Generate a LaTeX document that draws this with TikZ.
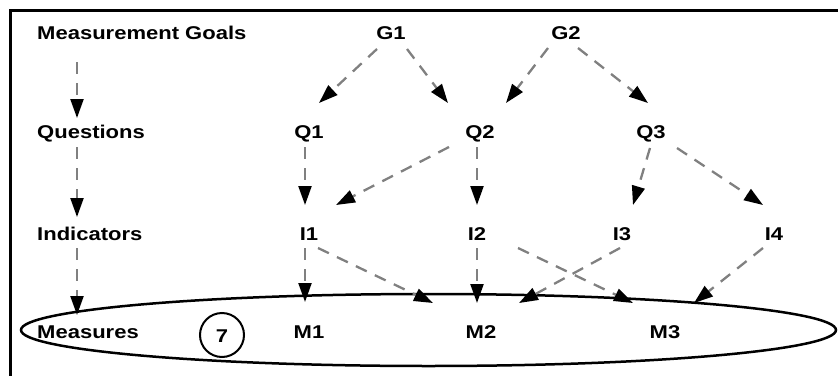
\documentclass[tikz,border=0pt]{standalone}
\usepackage{fontspec}
\setmainfont{Liberation Sans}[FakeStretch=1.19]
\usetikzlibrary{arrows.meta,calc,shapes.geometric}
\definecolor{dashgray}{HTML}{808080}
\begin{document}
\begin{tikzpicture}[x=1pt,y=-1pt,
  lbl/.style={font=\fontsize{18.5}{20}\selectfont\bfseries, inner sep=0pt, anchor=base},
  side/.style={lbl, anchor=base west},
  link/.style={draw=dashgray, line width=2.3pt, dash pattern=on 12pt off 9pt,
    -{Triangle[length=19pt,width=13pt,color=black]}}]
\useasboundingbox (0,0) rectangle (838,375);
% frame
\draw[line width=3pt] (10.5,10) rectangle (860,400);
% ellipse of measures
\node[draw, line width=2.5pt, ellipse, minimum width=815pt, minimum height=72pt, inner sep=0pt] (ell) at (428.5,330) {};
% side labels
\node[side] (MG) at (37,39) {Measurement Goals};
\node[side] (QS) at (37,138) {Questions};
\node[side] (IS) at (37,240) {Indicators};
\node[side] (MS) at (37,338) {Measures};
% nodes
\node[lbl] (G1) at (391,39) {G1};
\node[lbl] (G2) at (566,39) {G2};
\node[lbl] (Q1) at (309,138) {Q1};
\node[lbl] (Q2) at (480,138) {Q2};
\node[lbl] (Q3) at (651,138) {Q3};
\node[lbl] (I1) at (309,240) {I1};
\node[lbl] (I2) at (477,240) {I2};
\node[lbl] (I3) at (622,240) {I3};
\node[lbl] (I4) at (774,240) {I4};
\node[lbl] (M1) at (309,338) {M1};
\node[lbl] (M2) at (481,338) {M2};
\node[lbl] (M3) at (665,338) {M3};
\node[draw, circle, line width=2pt, minimum size=44pt, inner sep=0pt] (C7) at (222,335) {};
\node[lbl] (seven) at (222,342) {7};
% side arrows
\draw[link] ($(MG.base west)+(40,23)$) -- ($(QS.base west)+(40,-20)$);
\draw[link] ($(QS.base west)+(40,9)$) -- ($(IS.base west)+(40,-23)$);
\draw[link] ($(IS.base west)+(40,8)$) -- ($(MS.base west)+(40,-23)$);
% goals to questions
\draw[link] ($(G1.base)+(-14,10)$) -- ($(Q1.base)+(10,-35)$);
\draw[link] ($(G1.base)+(16,10)$) -- ($(Q2.base)+(-32,-35)$);
\draw[link] ($(G2.base)+(-18,9)$) -- ($(Q2.base)+(26,-35)$);
\draw[link] ($(G2.base)+(12,9)$) -- ($(Q3.base)+(-3,-35)$);
% questions to indicators
\draw[link] ($(Q1.base)+(-4,9)$) -- ($(I1.base)+(-4,-35)$);
\draw[link] ($(Q2.base)+(-31,9)$) -- ($(I1.base)+(27,-35)$);
\draw[link] ($(Q2.base)+(-3,9)$) -- ($(I2.base)+(0,-35)$);
\draw[link] ($(Q3.base)+(-1,10)$) -- ($(I3.base)+(11,-35)$);
\draw[link] ($(Q3.base)+(26,10)$) -- ($(I4.base)+(-11,-35)$);
% indicators to measures
\draw[link] ($(I1.base)+(-4,8)$) -- ($(M1.base)+(-4,-36)$);
\draw[link] ($(I1.base)+(9,8)$) -- ($(M2.base)+(-48,-35)$);
\draw[link] ($(I2.base)+(0,8)$) -- ($(M2.base)+(-4,-35)$);
\draw[link] ($(I2.base)+(41,8)$) -- ($(M3.base)+(-32,-35)$);
\draw[link] ($(I3.base)+(-2,8)$) -- ($(M2.base)+(38,-35)$);
\draw[link] ($(I4.base)+(-11,8)$) -- ($(M3.base)+(29,-35)$);
\end{tikzpicture}
\end{document}
